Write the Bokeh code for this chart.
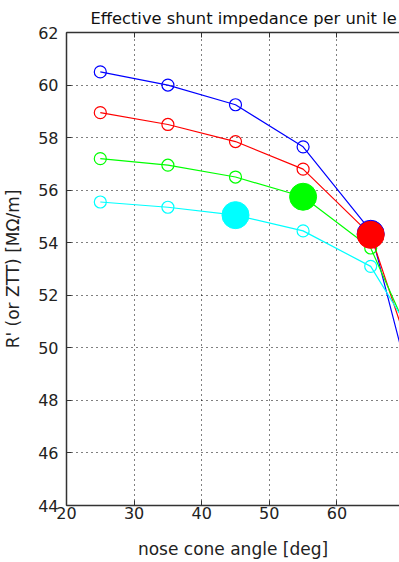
from bokeh.plotting import figure
from bokeh.models import LinearAxis, Range1d, FixedTicker, Title
from bokeh.embed import file_html
from bokeh.resources import INLINE

angles = [25, 35, 45, 55, 65, 75]
blue_vals = [60.5, 60.0, 59.25, 57.65, 54.45, 44.5]
red_vals = [58.95, 58.5, 57.85, 56.8, 54.3, 46.6]
green_vals = [57.2, 56.95, 56.5, 55.75, 53.8, 48.0]
cyan_vals = [55.55, 55.35, 55.05, 54.45, 53.1, 48.9]

highlight_x = [45, 55, 65, 65]
highlight_y = [55.05, 55.75, 54.34, 54.3]
highlight_c = ["#00FFFF", "#00FF00", "#0000FF", "#FF0000"]

x_ticks = [20, 30, 40, 50, 60, 70]
y_ticks = [44, 46, 48, 50, 52, 54, 56, 58, 60, 62]

FONT = "DejaVu Sans"
AX = "#333333"

p = figure(width=399, height=562, output_backend="svg", toolbar_location=None,
           x_range=Range1d(20, 69.26), y_range=Range1d(44, 62),
           min_border_left=64, min_border_right=0, min_border_top=32, min_border_bottom=57,
           x_axis_label="nose cone angle [deg]", y_axis_label="R' (or ZTT) [MΩ/m]")
p.outline_line_color = None
p.background_fill_color = "white"
p.border_fill_color = "white"

for ax in (p.xaxis[0], p.yaxis[0]):
    ax.major_tick_in = 5
    ax.major_tick_out = 0
    ax.minor_tick_line_color = None
    ax.axis_line_color = AX
    ax.axis_line_width = 1.5
    ax.major_tick_line_color = AX
    ax.major_label_text_font = FONT
    ax.major_label_text_font_size = "16px"
    ax.major_label_text_color = "#222222"
    ax.axis_label_text_font = FONT
    ax.axis_label_text_font_size = "17px"
    ax.axis_label_text_font_style = "normal"
    ax.axis_label_text_color = "#222222"
p.xaxis.ticker = FixedTicker(ticks=x_ticks)
p.yaxis.ticker = FixedTicker(ticks=y_ticks)
p.xaxis.major_label_standoff = 1
p.yaxis.major_label_standoff = 8
p.xaxis.axis_label_standoff = 17
p.yaxis.axis_label_standoff = 12

top = LinearAxis(ticker=FixedTicker(ticks=x_ticks), major_tick_in=5, major_tick_out=0,
                 minor_tick_line_color=None, axis_line_color=AX, axis_line_width=1.5,
                 major_tick_line_color=AX, major_label_text_alpha=0,
                 major_label_text_font_size="1px", major_label_standoff=0)
p.add_layout(top, "above")

for g in (p.xgrid[0], p.ygrid[0]):
    g.grid_line_color = "black"
    g.grid_line_dash = "1 4"
    g.grid_line_width = 1
p.xgrid.ticker = FixedTicker(ticks=x_ticks)
p.ygrid.ticker = FixedTicker(ticks=y_ticks)

series = [(blue_vals, "#0000FF"), (red_vals, "#FF0000"), (green_vals, "#00FF00"), (cyan_vals, "#00FFFF")]
for vals, c in series:
    p.line(angles, vals, line_color=c, line_width=1.2)
    p.scatter(angles, vals, marker="circle", size=12, fill_color=None, line_color=c, line_width=1.2)

p.scatter(highlight_x, highlight_y, marker="circle", size=27, fill_color=highlight_c, line_color=highlight_c)

p.add_layout(Title(text="Effective shunt impedance per unit le", align="left", offset=24,
                   standoff=9, text_font=FONT, text_font_size="16.3px", text_font_style="normal",
                   text_color="#111111"), "above")

open("out.html", "w").write(file_html(p, INLINE))
